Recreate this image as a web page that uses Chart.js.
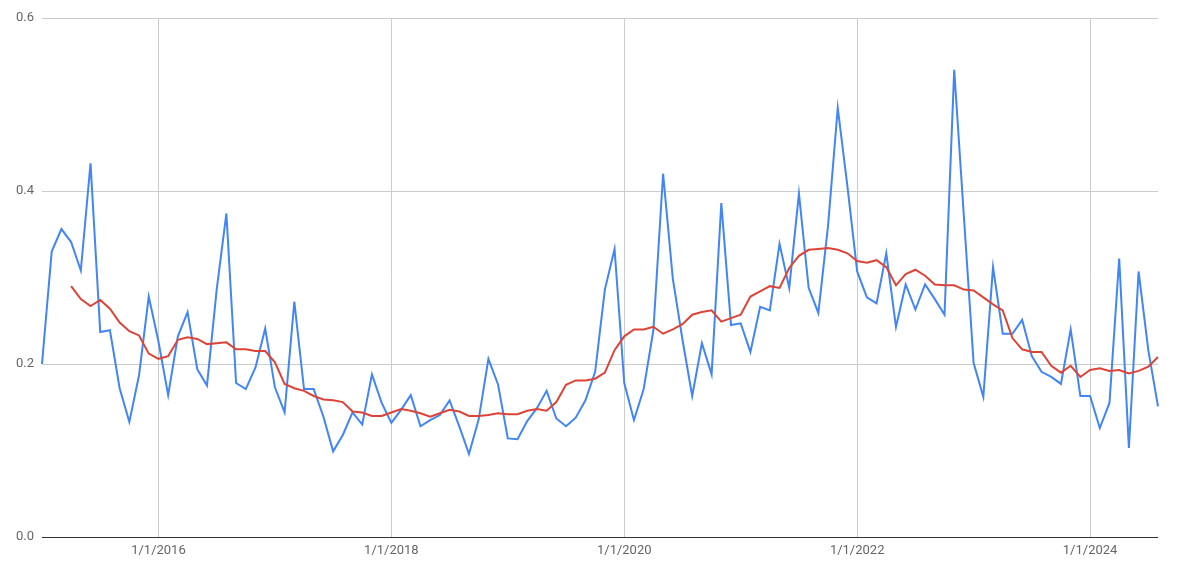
<!DOCTYPE html>
<html>
<head>
<meta charset="utf-8">
<script src="https://cdn.jsdelivr.net/npm/chart.js@4.4.1/dist/chart.umd.min.js"></script>
<style>
  html, body { margin: 0; padding: 0; background: #fff; }
  #chart { display: block; }
</style>
</head>
<body>
<canvas id="chart" width="1177" height="570"></canvas>
<script>
// ---------- data ----------
// monthly series, first point Jan 2015
const startYear = 2015;

const monthly = [
  0.200, 0.330, 0.356, 0.341, 0.308, 0.432, 0.237, 0.239, 0.172, 0.133, 0.187, 0.278,
  0.226, 0.164, 0.232, 0.260, 0.194, 0.175, 0.286, 0.374, 0.178, 0.171, 0.196, 0.241,
  0.173, 0.144, 0.272, 0.171, 0.171, 0.139, 0.099, 0.118, 0.144, 0.130, 0.188, 0.155,
  0.132, 0.147, 0.164, 0.128, 0.135, 0.141, 0.158, 0.128, 0.096, 0.136, 0.206, 0.176,
  0.114, 0.113, 0.134, 0.149, 0.169, 0.137, 0.128, 0.138, 0.158, 0.191, 0.286, 0.333,
  0.178, 0.135, 0.171, 0.239, 0.420, 0.299, 0.228, 0.163, 0.224, 0.188, 0.386, 0.245,
  0.247, 0.214, 0.266, 0.262, 0.339, 0.288, 0.397, 0.288, 0.259, 0.360, 0.496, 0.405,
  0.307, 0.277, 0.270, 0.328, 0.243, 0.292, 0.263, 0.292, 0.275, 0.257, 0.540, 0.370,
  0.201, 0.162, 0.312, 0.235, 0.235, 0.251, 0.209, 0.191, 0.185, 0.177, 0.240, 0.163,
  0.163, 0.126, 0.155, 0.322, 0.103, 0.307, 0.216, 0.151
];

// smoothed trend (no value for the first three months)
const trend = [
  null, null, null, 0.290, 0.275, 0.267, 0.274, 0.264, 0.248, 0.238, 0.233, 0.212,
  0.206, 0.209, 0.228, 0.231, 0.229, 0.223, 0.224, 0.225, 0.217, 0.217, 0.215, 0.215,
  0.202, 0.177, 0.172, 0.169, 0.163, 0.159, 0.158, 0.156, 0.145, 0.144, 0.140, 0.140,
  0.144, 0.148, 0.146, 0.143, 0.139, 0.143, 0.147, 0.145, 0.140, 0.140, 0.141, 0.143,
  0.142, 0.142, 0.146, 0.148, 0.146, 0.156, 0.176, 0.181, 0.181, 0.183, 0.190, 0.216,
  0.232, 0.240, 0.240, 0.243, 0.235, 0.240, 0.246, 0.257, 0.260, 0.262, 0.249, 0.253,
  0.257, 0.278, 0.284, 0.290, 0.288, 0.311, 0.325, 0.332, 0.333, 0.334, 0.332, 0.328,
  0.319, 0.317, 0.320, 0.312, 0.291, 0.304, 0.309, 0.302, 0.292, 0.291, 0.291, 0.286,
  0.285, 0.277, 0.269, 0.262, 0.230, 0.217, 0.214, 0.214, 0.198, 0.190, 0.198, 0.185,
  0.193, 0.195, 0.192, 0.193, 0.189, 0.192, 0.197, 0.208
];

const tickLabels = ['1/1/2016', '1/1/2018', '1/1/2020', '1/1/2022', '1/1/2024'];

// 월별 날짜 라벨 (m/1/yyyy)
const months = monthly.map((v, i) => {
  const y = startYear + Math.floor(i / 12);
  const m = (i % 12) + 1;
  return m + '/1/' + y;
});

// ---------- chart ----------
Chart.defaults.font.family = 'Roboto, Arial, sans-serif';
Chart.defaults.font.size = 13;
Chart.defaults.color = '#666';

const blue = '#4285f4';
const red = '#db4437';

const data = {
  labels: months,
  datasets: [
    {
      label: 'monthly',
      data: monthly,
      borderColor: blue,
      backgroundColor: blue,
      borderWidth: 2,
      pointRadius: 0,
      tension: 0,
      order: 1,
    },
    {
      label: 'trend',
      data: trend,
      borderColor: red,
      backgroundColor: red,
      borderWidth: 2,
      pointRadius: 0,
      tension: 0,
      order: 0,
    },
  ],
};

const config = {
  type: 'line',
  data: data,
  options: {
    responsive: false,
    animation: false,
    devicePixelRatio: 1,
    layout: {
      padding: { top: 18, right: 19, left: 0, bottom: 0 },
    },
    plugins: {
      legend: { display: false },
      title: { display: false },
    },
    scales: {
      x: {
        type: 'category',
        offset: false,
        border: { display: false },
        grid: {
          drawTicks: false,
          color: (ctx) =>
            ctx.tick && tickLabels.includes(months[ctx.tick.value]) ? '#cccccc' : 'rgba(0,0,0,0)',
        },
        ticks: {
          autoSkip: false,
          maxRotation: 0,
          padding: 6,
          callback: (v, i) => (tickLabels.includes(months[i]) ? months[i] : ''),
        },
        afterFit: (scale) => {
          scale.height = 33;
        },
      },
      y: {
        min: 0,
        max: 0.6,
        border: { display: false },
        grid: {
          drawTicks: false,
          color: (ctx) => (ctx.tick && ctx.tick.value === 0 ? '#333333' : '#cccccc'),
        },
        ticks: {
          stepSize: 0.2,
          padding: 8,
          callback: (v) => v.toFixed(1),
        },
        afterFit: (scale) => {
          scale.width = 42;
        },
      },
    },
  },
};

let myChart = new Chart(document.getElementById('chart'), config);
</script>
</body>
</html>
